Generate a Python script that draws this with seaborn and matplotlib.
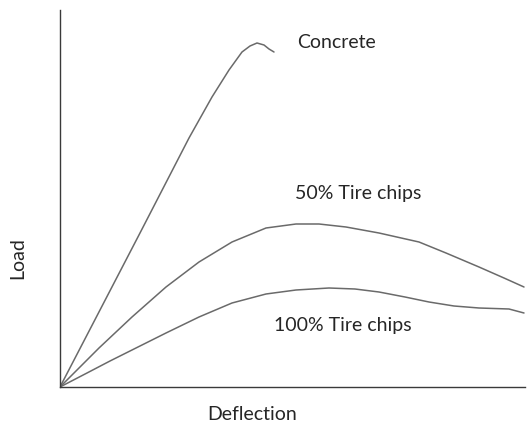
import seaborn as sns
import pandas as pd
import matplotlib.pyplot as plt

# values (arbitrary units, origin at the axes corner)
concrete_x = [0, 40, 80, 129, 152, 169, 182, 190, 197, 204, 209, 214]
concrete_y = [0, 77, 154, 249, 290, 317, 335, 341, 344, 342, 338, 335]

tire50_x = [0, 20, 39, 72, 106, 139, 172, 206, 236, 259, 286, 319, 359, 386, 419, 444, 464]
tire50_y = [0, 20, 39, 70, 100, 125, 145, 159, 163, 163, 160, 154, 145, 134, 120, 109, 100]

tire100_x = [0, 27, 50, 72, 106, 139, 172, 206, 236, 269, 295, 319, 345, 369, 394, 419, 449, 464]
tire100_y = [0, 14, 26, 37, 54, 70, 84, 93, 97, 99, 98, 95, 90, 85, 81, 79, 78, 74]

labels = ["Concrete", "50% Tire chips", "100% Tire chips"]

frames = []
for name, xs, ys in zip(labels, [concrete_x, tire50_x, tire100_x], [concrete_y, tire50_y, tire100_y]):
    frames.append(pd.DataFrame({"Deflection": xs, "Load": ys, "material": name}))
df = pd.concat(frames, ignore_index=True)

sns.set_style("white")
plt.rcParams['font.family'] = ['Lato', 'DejaVu Sans']

fig = plt.figure(figsize=(5.3, 4.26), dpi=100)
ax = fig.add_axes([60 / 530, 39 / 426, 465 / 530, 377 / 426])

sns.lineplot(data=df, x="Deflection", y="Load", hue="material", units="material",
             estimator=None, sort=False, palette=["#6a6a6a"] * 3, linewidth=1.1,
             legend=False, ax=ax)

ax.set_xlim(0, 465)
ax.set_ylim(0, 377)
ax.set_xticks([])
ax.set_yticks([])
ax.set_xlabel("Deflection", fontsize=14)
ax.set_ylabel("Load", fontsize=14)
ax.xaxis.set_label_coords(0.413, -0.072)
ax.yaxis.set_label_coords(-0.09, 0.342)
ax.xaxis.label.set_va("center")
ax.yaxis.label.set_va("center")
sns.despine(ax=ax)
for side in ["left", "bottom"]:
    ax.spines[side].set_color("#3a3a3a")
    ax.spines[side].set_linewidth(1.0)

ax.text(276, 344, "Concrete", fontsize=14, ha="center", va="center")
ax.text(298, 193, "50% Tire chips", fontsize=14, ha="center", va="center")
ax.text(283, 62, "100% Tire chips", fontsize=14, ha="center", va="center")

fig.savefig("out.png", dpi=100)
